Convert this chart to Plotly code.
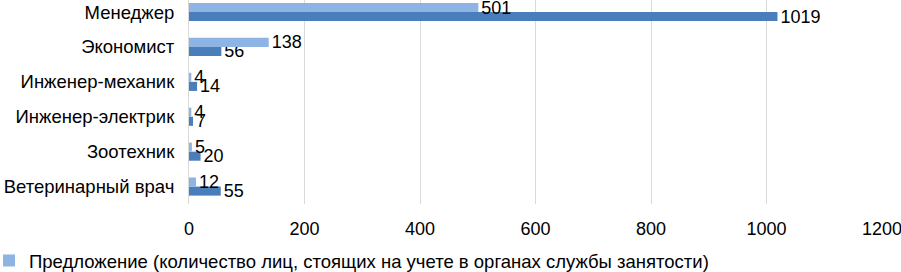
import plotly.graph_objects as go

categories = ["Ветеринарный врач", "Зоотехник", "Инженер-электрик",
              "Инженер-механик", "Экономист", "Менеджер"]
supply = [12, 5, 4, 4, 138, 501]
demand = [55, 20, 7, 14, 56, 1019]
supply_name = "Предложение (количество лиц, стоящих на учете в органах службы занятости)"
demand_name = "Спрос"
x_ticks = [0, 200, 400, 600, 800, 1000, 1200]

FONT = "Liberation Sans, Arial, sans-serif"
LIGHT = "#8DB4E2"
DARK = "#4A7EBB"
FS = 18.5

L, R = 189, 19
PW = 901 - L - R

fig = go.Figure()
# demand first (lower bar in each group), supply second (upper bar)
fig.add_trace(go.Bar(
    y=categories, x=demand, orientation="h", name=demand_name,
    marker=dict(color=DARK, line=dict(width=0)),
    text=demand, textposition="outside", cliponaxis=False, constraintext="none",
    textfont=dict(family=FONT, size=18, color="#000000"),
    showlegend=False,
))
fig.add_trace(go.Bar(
    y=categories, x=supply, orientation="h", name=supply_name,
    marker=dict(color=LIGHT, line=dict(width=0)),
    text=supply, textposition="outside", cliponaxis=False, constraintext="none",
    textfont=dict(family=FONT, size=18, color="#000000"),
))

fig.update_layout(
    width=901, height=272,
    margin=dict(l=L, r=R, t=0, b=68, autoexpand=False),
    barmode="group", bargap=0.48, bargroupgap=0,
    plot_bgcolor="white", paper_bgcolor="white",
    font=dict(family=FONT, size=FS, color="#000000"),
    showlegend=True,
    legend=dict(orientation="h", x=(-L - 11) / PW, xanchor="left", y=-0.186, yanchor="top",
                font=dict(family=FONT, size=FS, color="#000000"),
                itemwidth=30, bgcolor="rgba(0,0,0,0)"),
)
fig.update_xaxes(
    range=[0, 1200], tickvals=x_ticks, ticktext=[str(v) for v in x_ticks],
    showgrid=True, gridcolor="#D9D9D9", gridwidth=1, zeroline=False,
    showline=False, ticks="", ticklabelstandoff=12, automargin=False,
    ticklabeloverflow="allow",
    tickfont=dict(family=FONT, size=18, color="#000000"), fixedrange=True,
)
fig.update_yaxes(
    type="category", categoryorder="array", categoryarray=categories,
    range=[-0.5, 5.345], showgrid=False, zeroline=False,
    showline=True, linecolor="#D9D9D9", linewidth=1, ticks="",
    ticklabelstandoff=10, automargin=False,
    tickfont=dict(family=FONT, size=FS, color="#000000"), fixedrange=True,
)

fig.write_html("out.html",
               config={"displayModeBar": False, "staticPlot": True},
               post_script="document.body.style.margin='0';document.body.style.overflow='hidden';")
